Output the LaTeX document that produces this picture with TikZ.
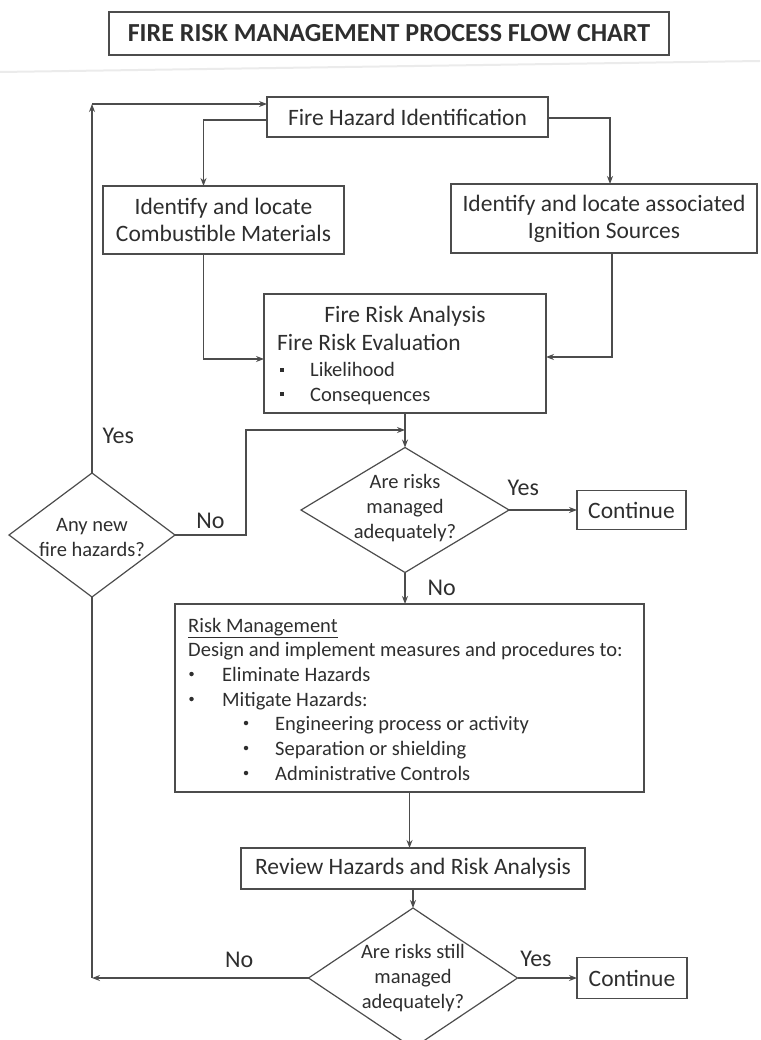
\documentclass[tikz,border=0pt]{standalone}
\usepackage{fontspec}
\setmainfont{Carlito}
\usetikzlibrary{shapes.geometric,arrows.meta}
\definecolor{ink}{gray}{0.18}
\definecolor{pen}{gray}{0.3}
\tikzset{
  box/.style = {draw=pen, line width=1.2pt, text=ink,
                inner sep=0pt, outer sep=0pt},
  decision/.style = {diamond, draw=pen, line width=1.2pt,
                inner sep=0pt, outer sep=0pt},
  arr/.style = {draw=pen, line width=1.2pt, -{Stealth[length=8pt,width=6pt]}},
  link/.style = {draw=pen, line width=1.2pt},
  lbl/.style = {text=ink, inner sep=0pt},
  sq/.style = {fill=ink, minimum size=4.5pt, inner sep=0pt},
  bull/.style = {circle, fill=ink, minimum size=4.5pt, inner sep=0pt}
}

\begin{document}
\begin{tikzpicture}[x=1pt, y=-1pt]
	\def\fsmain{\fontsize{23.5pt}{27pt}\selectfont}
	\def\fssub{\fontsize{20.5pt}{25pt}\selectfont}
	\def\fslbl{\fontsize{24pt}{28pt}\selectfont}
	\def\fstitle{\fontsize{26pt}{30pt}\selectfont\bfseries}

	\useasboundingbox (0,0) rectangle (760,1040);
	\clip (0,0) rectangle (760,1040);

	% Title
	\node[box, minimum width=560pt, minimum height=43pt, font=\fstitle] (title) at (389,33.5) {FIRE RISK MANAGEMENT PROCESS FLOW CHART};
	\draw[black!8, line width=2pt] (0,72) -- (760,61); % scan edge

	% Hazards
	\node[box, minimum width=281pt, minimum height=40pt, font=\fsmain] (fhi) at (407.5,117) {Fire Hazard Identification};
	\node[box, minimum width=241pt, minimum height=68pt, font=\fsmain, align=center] (comb) at (223.5,220) {Identify and locate\\Combustible Materials};
	\node[box, minimum width=306pt, minimum height=69pt, font=\fsmain, align=center] (ign) at (604,218.5) {Identify and locate associated\\Ignition Sources};

	% Analysis
	\node[box, minimum width=282pt, minimum height=119pt] (fra) at (405,353.5) {};
	\node[lbl, font=\fsmain, anchor=base] (fraHead) at (405,322) {Fire Risk Analysis};
	\node[lbl, font=\fsmain, anchor=base west] (fraEval) at (277,350) {Fire Risk Evaluation};
	\node[sq] (fraSq1) at (282,370) {};
	\node[lbl, font=\fssub, anchor=base west] (fraLik) at (310,376) {Likelihood};
	\node[sq] (fraSq2) at (282,394) {};
	\node[lbl, font=\fssub, anchor=base west] (fraCon) at (310,401) {Consequences};

	% Decisions
	\node[decision, minimum width=208pt, minimum height=125pt] (d1) at (405,510) {};
	\node[lbl, font=\fssub, align=center] (d1txt) at (405,508) {Are risks\\managed\\adequately?};
	\node[box, minimum width=109pt, minimum height=39pt, font=\fsmain] (cont1) at (631.5,510) {Continue};

	\node[decision, minimum width=166pt, minimum height=124pt] (d0) at (92,535) {};
	\node[lbl, font=\fssub, align=center] (d0txt) at (92,537) {Any new\\fire hazards?};

	% Risk management
	\node[box, minimum width=469pt, minimum height=188pt] (rm) at (409.5,698) {};
	\node[lbl, font=\fssub, anchor=base west] (rmHead) at (188,632) {\underline{Risk Management}};
	\node[lbl, font=\fssub, anchor=base west] (rmDesign) at (188,656) {Design and implement measures and procedures to:};
	\node[bull] (rmB1) at (191.5,674) {};
	\node[lbl, font=\fssub, anchor=base west] (rmElim) at (222,681) {Eliminate Hazards};
	\node[bull] (rmB2) at (191.5,699) {};
	\node[lbl, font=\fssub, anchor=base west] (rmMit) at (222,706) {Mitigate Hazards:};
	\node[bull] (rmB3) at (246,723) {};
	\node[lbl, font=\fssub, anchor=base west] (rmEng) at (275,730) {Engineering process or activity};
	\node[bull] (rmB4) at (246,748) {};
	\node[lbl, font=\fssub, anchor=base west] (rmSep) at (275,755) {Separation or shielding};
	\node[bull] (rmB5) at (246,773) {};
	\node[lbl, font=\fssub, anchor=base west] (rmAdm) at (275,780) {Administrative Controls};

	% Review
	\node[box, minimum width=344pt, minimum height=41pt, font=\fsmain] (rev) at (413,868.5) {Review Hazards and Risk Analysis};
	\node[decision, minimum width=209pt, minimum height=140pt] (d2) at (413,978) {};
	\node[lbl, font=\fssub, align=center] (d2txt) at (413,978.5) {Are risks still\\managed\\adequately?};
	\node[box, minimum width=110pt, minimum height=41pt, font=\fsmain] (cont2) at (632,978) {Continue};

	% Connectors
	\coordinate (loopTop) at (92,104);
	\coordinate (join) at (405,430);
	\coordinate (loopBot) at (d0.south |- d2.west);

	\draw[arr] (d0.north) -- node[lbl, font=\fslbl, pos=0.1, right=10pt] (yesNew) {Yes} (loopTop);
	\draw[arr] (loopTop) -- (loopTop -| fhi.west);
	\draw[arr] ([yshift=-3pt]fhi.west) -| ([xshift=-20pt]comb.north);
	\draw[arr] ([yshift=-1pt]fhi.east) -| ([xshift=6pt]ign.north);
	\draw[arr] ([xshift=-20pt]comb.south) |- ([yshift=-5.5pt]fra.west);
	\draw[arr] ([xshift=8pt]ign.south) |- ([yshift=-3.5pt]fra.east);

	\draw[arr] (fra.south) -- (d1.north);
	\draw[arr] (d0.east) -- node[lbl, font=\fslbl, above=6pt] (noNew) {No} ++(71,0) |- (join);
	\draw[arr] (d1.east) -- node[lbl, font=\fslbl, pos=0.21, above=14pt] (yes1) {Yes} (cont1.west);
	\draw[arr] (d1.south) -- node[lbl, font=\fslbl, right=22pt] (no1) {No} (d1.south |- rm.north);

	\draw[arr] (rm.south) -- (rm.south |- rev.north);
	\draw[arr] (rev.south) -- (rev.south |- d2.north);
	\draw[arr] (d2.east) -- node[lbl, font=\fslbl, pos=0.31, above=11pt] (yes2) {Yes} (cont2.west);
	\draw[arr] (d2.west) -- node[lbl, font=\fslbl, pos=0.32, above=10pt] (no2) {No} (loopBot);
	\draw[link] (d0.south) -- (loopBot);

\end{tikzpicture}
\end{document}
